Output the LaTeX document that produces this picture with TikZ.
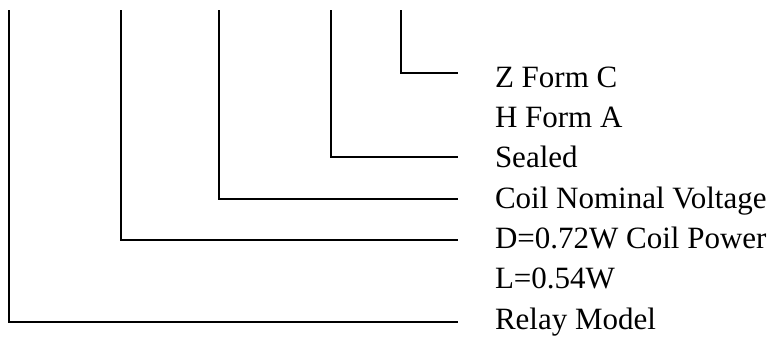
\documentclass[tikz,border=0pt]{standalone}
\usepackage{fontspec}
\setmainfont{Liberation Serif}
\tikzset{
  lead/.style={line width=1.6pt, line cap=rect},
  lbl/.style={anchor=base west, inner sep=0pt, outer sep=0pt, font=\fontsize{31}{31}\selectfont}
}
\begin{document}
\begin{tikzpicture}[x=1pt,y=-1pt]
\useasboundingbox (0,0) rectangle (776,343);
% labels
\node[lbl] (z) at (495,87) {Z Form C};
\node[lbl] (h) at (495,127.3) {H Form A};
\node[lbl] (s) at (495,167.7) {Sealed};
\node[lbl] (c) at (495,208) {Coil Nominal Voltage};
\node[lbl] (d) at (495,248.3) {D=0.72W Coil Power};
\node[lbl] (l) at (495,288.7) {L=0.54W};
\node[lbl] (r) at (495,329) {Relay Model};
% leader tops and ends
\coordinate (tz) at (401,10.5);
\coordinate (ts) at (331,10.5);
\coordinate (tc) at (219,10.5);
\coordinate (td) at (121,10.5);
\coordinate (tr) at (9,10.5);
\coordinate (ez) at (457,73);
\coordinate (es) at (457,157);
\coordinate (ec) at (457,199);
\coordinate (ed) at (457,240);
\coordinate (er) at (457,322);
\draw[lead] (tz) |- (ez);
\draw[lead] (ts) |- (es);
\draw[lead] (tc) |- (ec);
\draw[lead] (td) |- (ed);
\draw[lead] (tr) |- (er);
\end{tikzpicture}
\end{document}
